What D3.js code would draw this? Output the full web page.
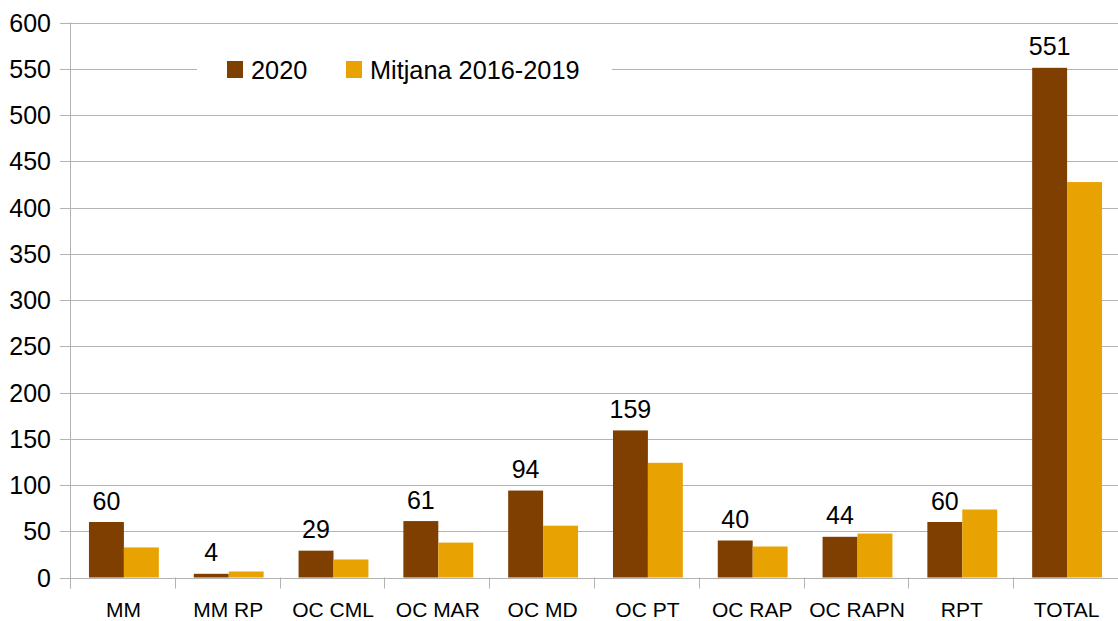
<!DOCTYPE html>
<html>
<head>
<meta charset="utf-8">
<script src="https://cdn.jsdelivr.net/npm/d3@7"></script>
<style>
  body { margin: 0; background: #fff; }
  text { font-family: "Liberation Sans", Arial, sans-serif; fill: #000; }
</style>
</head>
<body>
<svg id="chart" width="1118" height="621"></svg>
<script>
var categories = ['MM', 'MM RP', 'OC CML', 'OC MAR', 'OC MD', 'OC PT', 'OC RAP', 'OC RAPN', 'RPT', 'TOTAL'];
var seriesNames = ['2020', 'Mitjana 2016-2019'];
var values2020 = [60, 4, 29, 61, 94, 159, 40, 44, 60, 551];
var valuesMitjana = [32.5, 6.5, 19.5, 37.75, 56, 124, 33.5, 47.5, 73.5, 427.5];
var yTicks = [0, 50, 100, 150, 200, 250, 300, 350, 400, 450, 500, 550, 600];
var colors = ['#7e3f00', '#e8a202'];

var svg = d3.select('#chart');
var plotLeft = 70, plotRight = 1118, plotTop = 22.5, plotBottom = 577.5;

var x = d3.scaleBand().domain(categories).range([plotLeft, plotRight]);
var xSub = d3.scaleBand().domain(seriesNames).range([1.5, x.bandwidth() + 1.5]).paddingOuter(0.5);
var y = d3.scaleLinear().domain([0, 600]).range([plotBottom, plotTop]);

function snap(v) { return Math.round(v) + 0.5; }

// gridlines
svg.append('g')
  .selectAll('line')
  .data(yTicks)
  .enter()
  .append('line')
  .attr('x1', plotLeft)
  .attr('x2', plotRight)
  .attr('y1', function(d) { return snap(y(d)); })
  .attr('y2', function(d) { return snap(y(d)); })
  .attr('stroke', '#b3b3b3');

// y ticks and labels
var yAxis = d3.axisLeft(y).tickValues(yTicks).tickSize(10).tickPadding(9).tickFormat(d3.format('d'));
var yg = svg.append('g').attr('transform', 'translate(' + plotLeft + ',0)').call(yAxis);
yg.select('.domain').remove();
yg.selectAll('.tick').attr('transform', function(d) { return 'translate(0,' + snap(y(d)) + ')'; });
yg.selectAll('.tick line').attr('stroke', '#b3b3b3');
yg.selectAll('.tick text').style('font-size', '25px').attr('fill', '#000');

// vertical axis line
svg.append('line')
  .attr('x1', plotLeft + 0.5).attr('x2', plotLeft + 0.5)
  .attr('y1', plotTop).attr('y2', plotBottom + 11)
  .attr('stroke', '#b3b3b3');

// category ticks at band boundaries
var bounds = categories.map(function(c) { return x(c); }).concat([plotRight]);
svg.append('g')
  .selectAll('line')
  .data(bounds)
  .enter()
  .append('line')
  .attr('x1', function(d) { return snap(d); })
  .attr('x2', function(d) { return snap(d); })
  .attr('y1', plotBottom)
  .attr('y2', plotBottom + 11)
  .attr('stroke', '#b3b3b3');

// category labels
svg.append('g')
  .selectAll('text')
  .data(categories)
  .enter()
  .append('text')
  .attr('x', function(d) { return x(d) + x.bandwidth() / 2 + 1; })
  .attr('y', 616.5)
  .attr('text-anchor', 'middle')
  .style('font-size', '21px')
  .text(function(d) { return d; });

// bars
var rows = categories.map(function(c, i) {
  return { cat: c, vals: [values2020[i], valuesMitjana[i]] };
});
var groups = svg.append('g')
  .selectAll('g')
  .data(rows)
  .enter()
  .append('g')
  .attr('transform', function(d) { return 'translate(' + x(d.cat) + ',0)'; });

groups.selectAll('rect')
  .data(function(d) { return d.vals.map(function(v, j) { return { s: seriesNames[j], v: v, j: j }; }); })
  .enter()
  .append('rect')
  .attr('x', function(d) { return xSub(d.s); })
  .attr('width', xSub.bandwidth())
  .attr('y', function(d) { return y(d.v); })
  .attr('height', function(d) { return plotBottom - y(d.v); })
  .attr('fill', function(d) { return colors[d.j]; });

// data labels on 2020 bars
groups.append('text')
  .attr('x', xSub(seriesNames[0]) + xSub.bandwidth() / 2)
  .attr('y', function(d) { return y(d.vals[0]) - 12.5; })
  .attr('text-anchor', 'middle')
  .style('font-size', '25px')
  .text(function(d) { return d.vals[0]; });

// legend
var legend = svg.append('g');
legend.append('rect')
  .attr('x', 197).attr('y', 52).attr('width', 415).attr('height', 36)
  .attr('fill', '#fff');
var legendX = [227, 346];
seriesNames.forEach(function(s, i) {
  legend.append('rect')
    .attr('x', legendX[i]).attr('y', 61).attr('width', 16).attr('height', 17)
    .attr('fill', colors[i]);
  legend.append('text')
    .attr('x', legendX[i] + 24).attr('y', 78.5)
    .style('font-size', '25.3px')
    .text(s);
});
</script>
</body>
</html>
